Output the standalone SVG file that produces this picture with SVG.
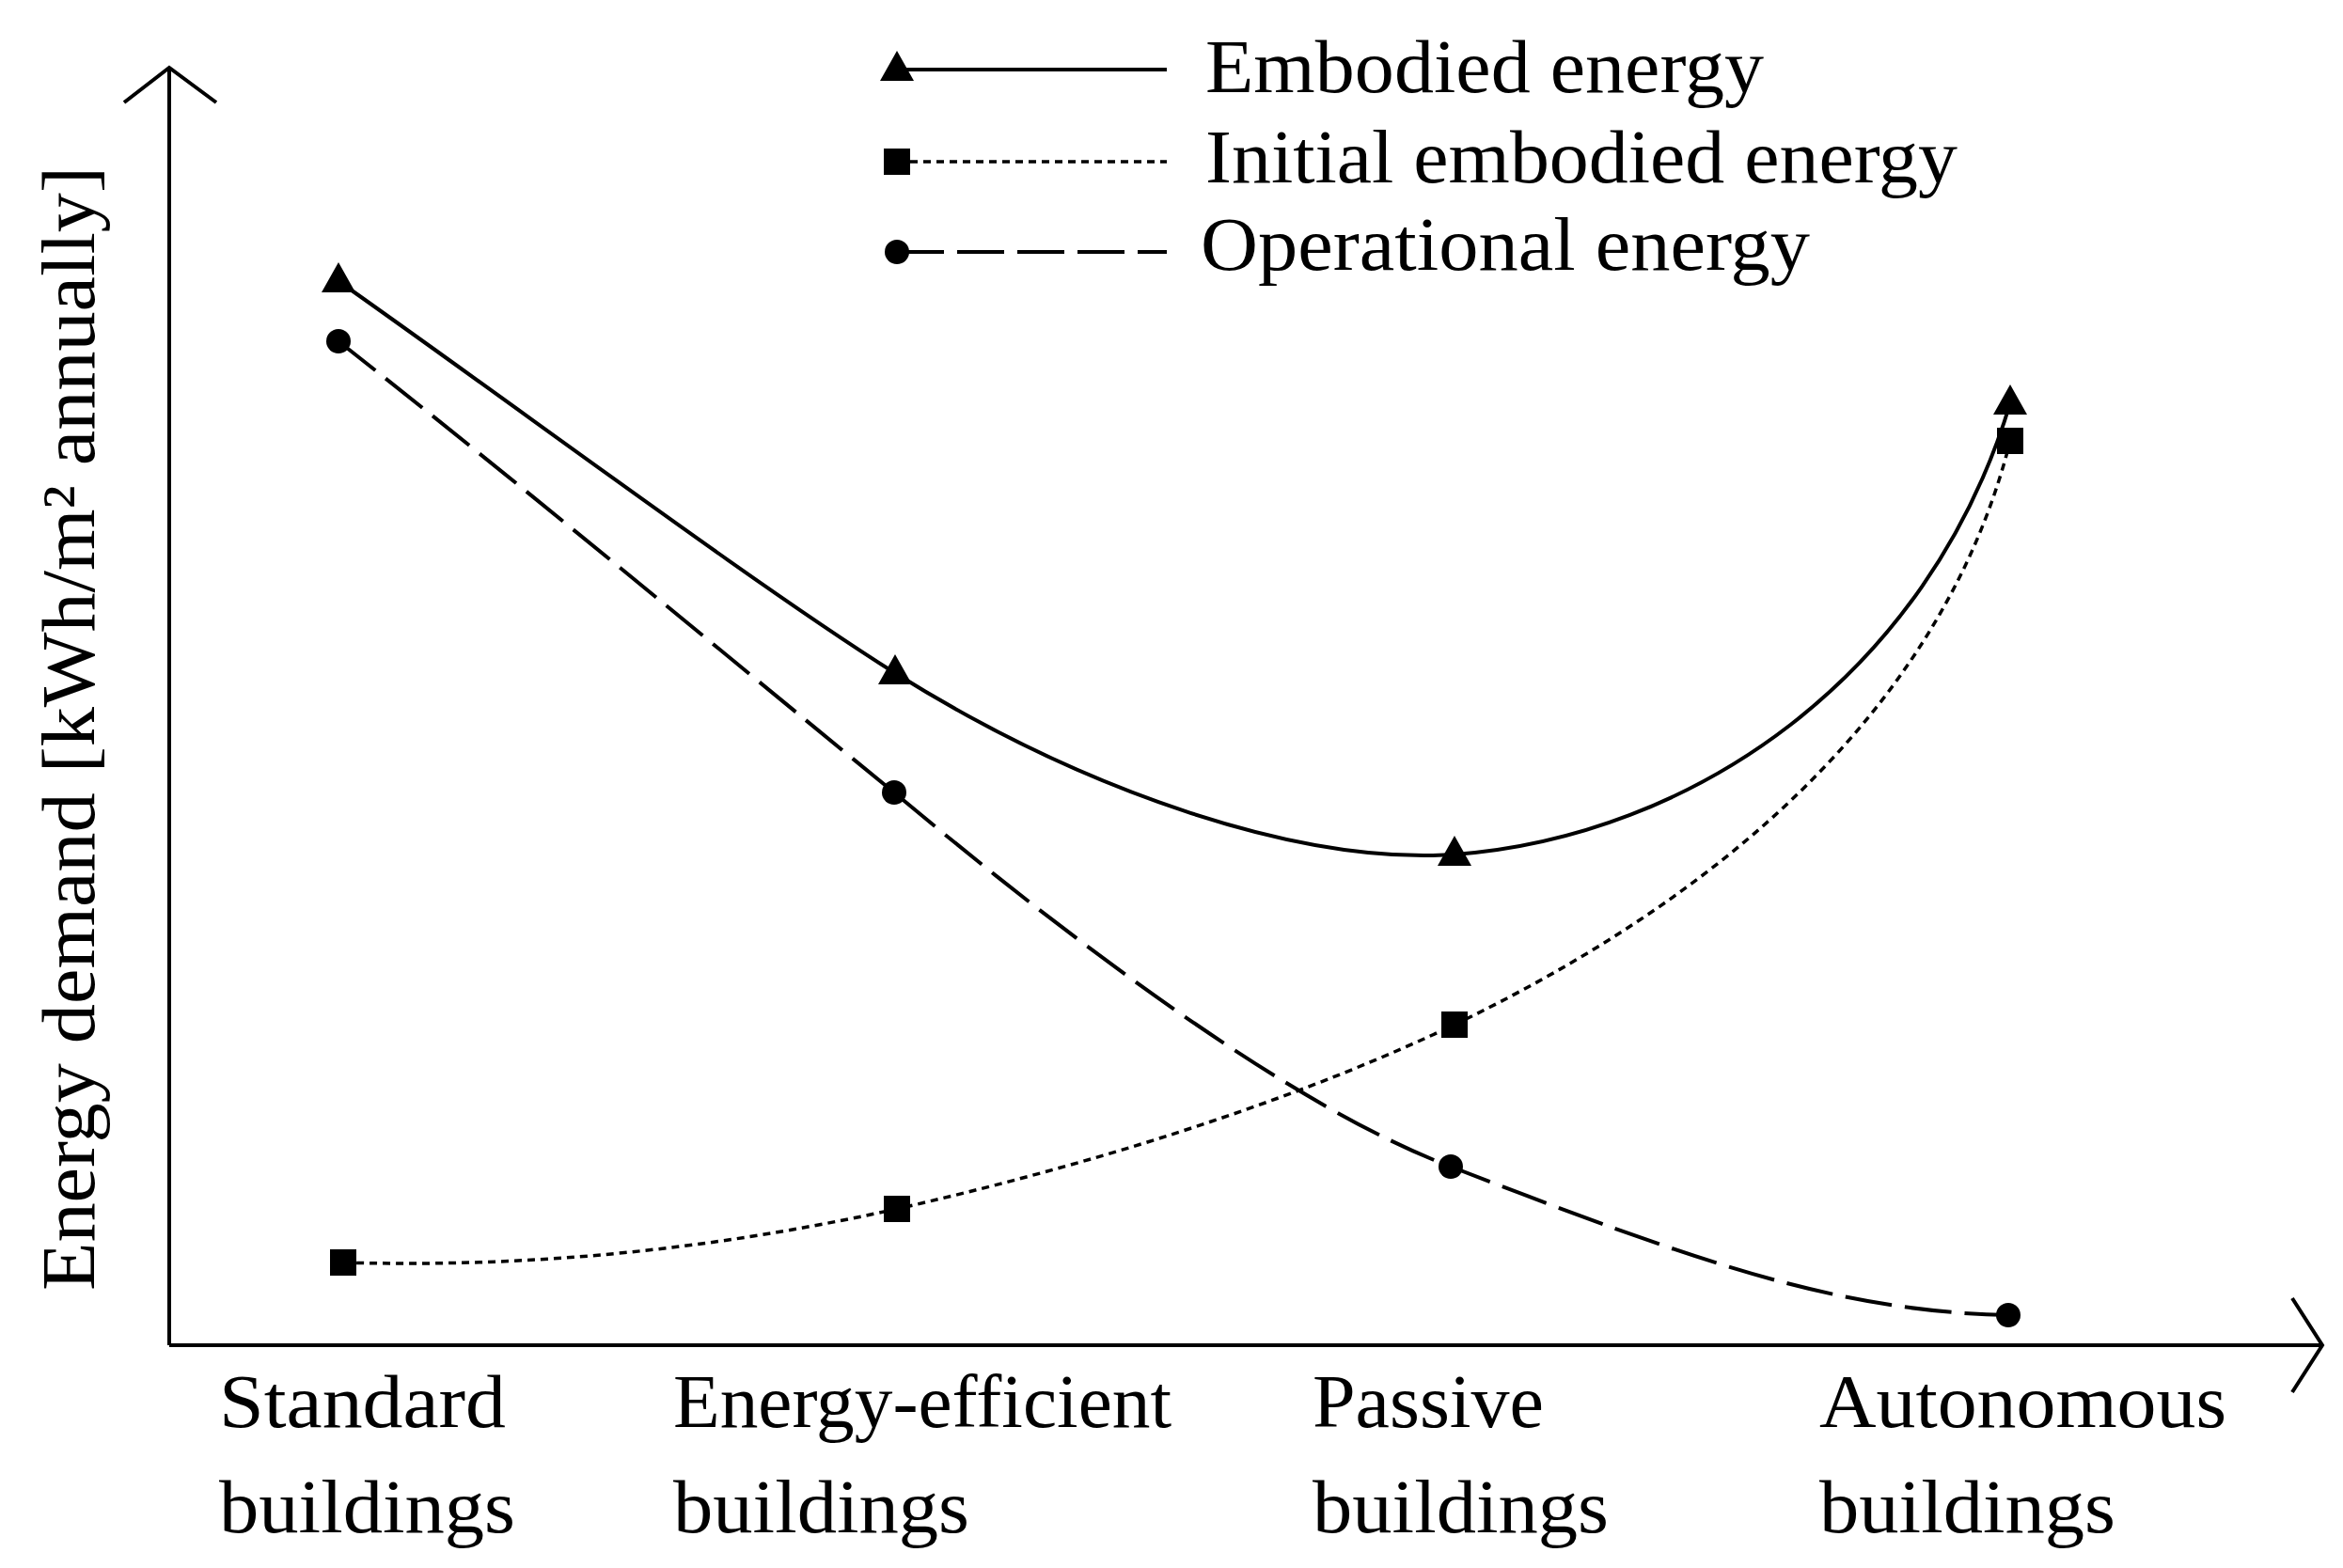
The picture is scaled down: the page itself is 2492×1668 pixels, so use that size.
<svg xmlns="http://www.w3.org/2000/svg" width="2492" height="1668" viewBox="0 0 2492 1668">
<style>
.t{font-family:"Liberation Serif","DejaVu Serif",serif;font-size:80px;fill:#000}
.ln{fill:none;stroke:#000;stroke-width:4}
.op{stroke-dasharray:50 14}
.in{stroke-dasharray:8 6;stroke-width:3.5}
</style>
<defs>
<path id="tri" d="M0,-20 L18,12 L-18,12 Z"/>
<rect id="sq" x="-14" y="-14" width="28" height="28"/>
<circle id="ci" r="13"/>
</defs>
<rect width="2492" height="1668" fill="#fff"/>
<g id="axes" class="ln">
<path d="M180,1431 V72 M132,109 L180,72 L230,109"/>
<path d="M180,1431 H2470 M2438,1381 L2470,1431 L2438,1481"/>
</g>
<g id="connectors">
<path class="ln" d="M360,299 C560,440 800,620 952,716 C1150,840 1380,920 1547,909 C1800,890 2050,720 2138,429"/>
<path class="ln op" d="M360,363 C560,520 800,720 951,843 C1150,1010 1380,1180 1543,1241 C1800,1340 1950,1395 2136,1399"/>
<path class="ln in" d="M365,1343 C600,1350 800,1320 954,1286 C1200,1230 1400,1160 1547,1090 C1900,920 2080,700 2138,469"/>
<path class="ln" d="M954,74 H1241"/>
<path class="ln in" d="M954,172 H1241"/>
<path class="ln op" d="M954,268 H1241"/>
</g>
<g id="markers">
<use href="#tri" x="360" y="299"/><use href="#tri" x="952" y="716"/><use href="#tri" x="1547" y="909"/><use href="#tri" x="2138" y="429"/>
<use href="#ci" x="360" y="363"/><use href="#ci" x="951" y="843"/><use href="#ci" x="1543" y="1241"/><use href="#ci" x="2136" y="1399"/>
<use href="#sq" x="365" y="1343"/><use href="#sq" x="954" y="1286"/><use href="#sq" x="1547" y="1090"/><use href="#sq" x="2138" y="469"/>
<use href="#tri" x="954" y="74"/><use href="#sq" x="954" y="172"/><use href="#ci" x="954" y="268"/>
</g>
<g id="legend">
<text class="t" x="1282" y="98" textLength="594" lengthAdjust="spacingAndGlyphs">Embodied energy</text>
<text class="t" x="1282" y="194" textLength="800" lengthAdjust="spacingAndGlyphs">Initial embodied energy</text>
<text class="t" x="1277" y="287" textLength="648" lengthAdjust="spacingAndGlyphs">Operational energy</text>
</g>
<g id="ylabel"><text class="t" transform="translate(100,1373) rotate(-90)" textLength="1196" lengthAdjust="spacingAndGlyphs">Energy demand [kWh/m² annually]</text></g>
<g id="xlabels">
<text class="t" x="233" y="1518" textLength="305" lengthAdjust="spacingAndGlyphs">Standard</text><text class="t" x="233" y="1630" textLength="315" lengthAdjust="spacingAndGlyphs">buildings</text>
<text class="t" x="716" y="1518" textLength="530" lengthAdjust="spacingAndGlyphs">Energy-efficient</text><text class="t" x="716" y="1630" textLength="315" lengthAdjust="spacingAndGlyphs">buildings</text>
<text class="t" x="1396" y="1518" textLength="246" lengthAdjust="spacingAndGlyphs">Passive</text><text class="t" x="1396" y="1630" textLength="315" lengthAdjust="spacingAndGlyphs">buildings</text>
<text class="t" x="1935" y="1518" textLength="433" lengthAdjust="spacingAndGlyphs">Autonomous</text><text class="t" x="1935" y="1630" textLength="315" lengthAdjust="spacingAndGlyphs">buildings</text>
</g>
</svg>
